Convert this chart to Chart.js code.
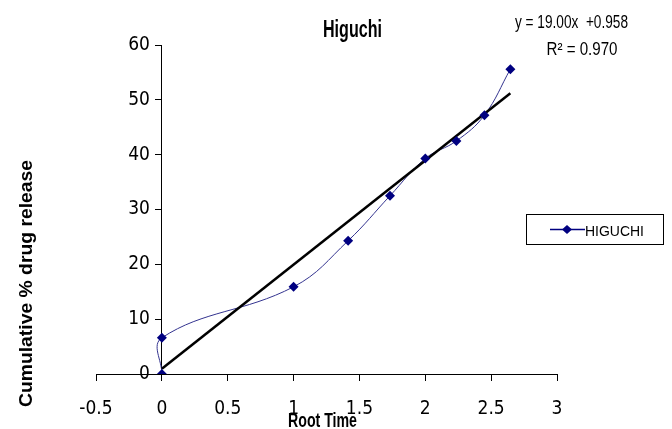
<!DOCTYPE html>
<html><head><meta charset="utf-8">
<script src="https://cdn.jsdelivr.net/npm/chart.js@4.4.1/dist/chart.umd.min.js"></script>
<style>html,body{margin:0;padding:0;background:#fff}#wrap{width:672px;height:429px}</style>
</head><body><div id="wrap"><canvas id="c" width="672" height="429"></canvas></div>
<script>
// ---- data ----
const rootTime   = [0, 0, 1, 1.414, 1.732, 2, 2.236, 2.449, 2.646];
const releasePct = [0, 6.6, 15.9, 24.3, 32.5, 39.3, 42.5, 47.2, 55.6];
const trendX = [0, 2.646];
const trendY = [0.96, 51.2];
const xTicks = [-0.5, 0, 0.5, 1, 1.5, 2, 2.5, 3];
const yTicks = [0, 10, 20, 30, 40, 50, 60];
const seriesName = 'HIGUCHI';
const chartTitle = 'Higuchi';
const equationLines = ['y = 19.00x  +0.958', 'R\u00B2 = 0.970'];
const xTitle = 'Root Time';
const yTitle = 'Cumulative % drug release';

const CONDENSED = '"DejaVu Sans Condensed", "Liberation Sans", sans-serif';
const ARIAL = '"Liberation Sans", Arial, sans-serif';
const NAVY = '#000080';
const LINE_BLUE = '#33338f';

const seriesPts = rootTime.map((x, i) => ({x, y: releasePct[i]}));
const trendPts = trendX.map((x, i) => ({x, y: trendY[i]}));

// draw text centred at cx, on baseline by, squeezed/stretched to a target width
function drawFit(ctx, text, cx, by, font, targetW) {
  ctx.save();
  ctx.font = font;
  const w = ctx.measureText(text).width;
  const sx = targetW / w;
  ctx.translate(cx, by);
  ctx.scale(sx, 1);
  ctx.textAlign = 'center';
  ctx.textBaseline = 'alphabetic';
  ctx.fillText(text, 0, 0);
  ctx.restore();
}

const textPlugin = {
  id: 'texts',
  afterDraw(chart) {
    const ctx = chart.ctx;
    ctx.save();
    ctx.fillStyle = '#000';
    drawFit(ctx, chartTitle, 352.5, 36.5, 'bold 23px ' + ARIAL, 59);
    drawFit(ctx, equationLines[0], 571.5, 28, '18px ' + ARIAL, 113);
    drawFit(ctx, equationLines[1], 582, 55, '18px ' + ARIAL, 71);
    drawFit(ctx, xTitle, 322.5, 426.5, 'bold 21px ' + ARIAL, 69);
    ctx.save();
    ctx.translate(32, 283.5);
    ctx.rotate(-Math.PI / 2);
    drawFit(ctx, yTitle, 0, 0, 'bold 19px ' + ARIAL, 247);
    ctx.restore();
    // legend
    ctx.strokeStyle = '#000';
    ctx.lineWidth = 1;
    ctx.strokeRect(526.5, 214.5, 137, 30);
    ctx.strokeStyle = NAVY;
    ctx.lineWidth = 1.5;
    ctx.beginPath(); ctx.moveTo(550, 229.5); ctx.lineTo(585, 229.5); ctx.stroke();
    ctx.fillStyle = NAVY;
    ctx.beginPath();
    ctx.moveTo(567, 225); ctx.lineTo(572, 229.5); ctx.lineTo(567, 234); ctx.lineTo(562, 229.5);
    ctx.closePath(); ctx.fill();
    ctx.fillStyle = '#000';
    drawFit(ctx, seriesName, 614.5, 236, '15.5px ' + ARIAL, 59);
    ctx.restore();
  }
};

new Chart(document.getElementById('c'), {
  type: 'scatter',
  data: {
    datasets: [
      { label: seriesName, data: seriesPts, showLine: true, tension: 0.4,
        borderColor: LINE_BLUE, borderWidth: 1, pointRadius: 0, order: 3 },
      { label: 'trend', data: trendPts, showLine: true, tension: 0,
        borderColor: '#000', borderWidth: 2.5, pointRadius: 0, order: 2 },
      { label: seriesName + ' points', data: seriesPts, showLine: false,
        pointStyle: 'rectRot', pointRadius: 5, backgroundColor: NAVY, borderColor: NAVY, borderWidth: 0, order: 1 }
    ]
  },
  options: {
    responsive: false,
    animation: false,
    layout: { padding: { left: 96, right: 115, top: 45, bottom: 55 } },
    plugins: { legend: { display: false }, title: { display: false }, tooltip: { enabled: false } },
    scales: {
      x: {
        type: 'linear', position: { y: 0 }, min: -0.5, max: 3,
        afterBuildTicks: s => { s.ticks = xTicks.map(v => ({value: v})); },
        grid: { display: true, drawOnChartArea: false, drawTicks: true, tickLength: 6, color: '#000' },
        border: { display: true, color: '#000', width: 1 },
        ticks: { color: '#000', padding: 18, font: { family: CONDENSED, size: 19 }, maxRotation: 0, autoSkip: false,
                 callback: v => String(v) },
        title: { display: false }
      },
      y: {
        type: 'linear', position: { x: 0 }, min: 0, max: 60,
        afterBuildTicks: s => { s.ticks = yTicks.map(v => ({value: v})); },
        grid: { display: true, drawOnChartArea: false, drawTicks: true, tickLength: 6, color: '#000' },
        border: { display: true, color: '#000', width: 1 },
        ticks: { color: '#000', padding: 8, font: { family: CONDENSED, size: 19 }, autoSkip: false,
                 callback: v => String(v) + '\u2002\u2009' },
        title: { display: false }
      }
    }
  },
  plugins: [textPlugin]
});
</script></body></html>
